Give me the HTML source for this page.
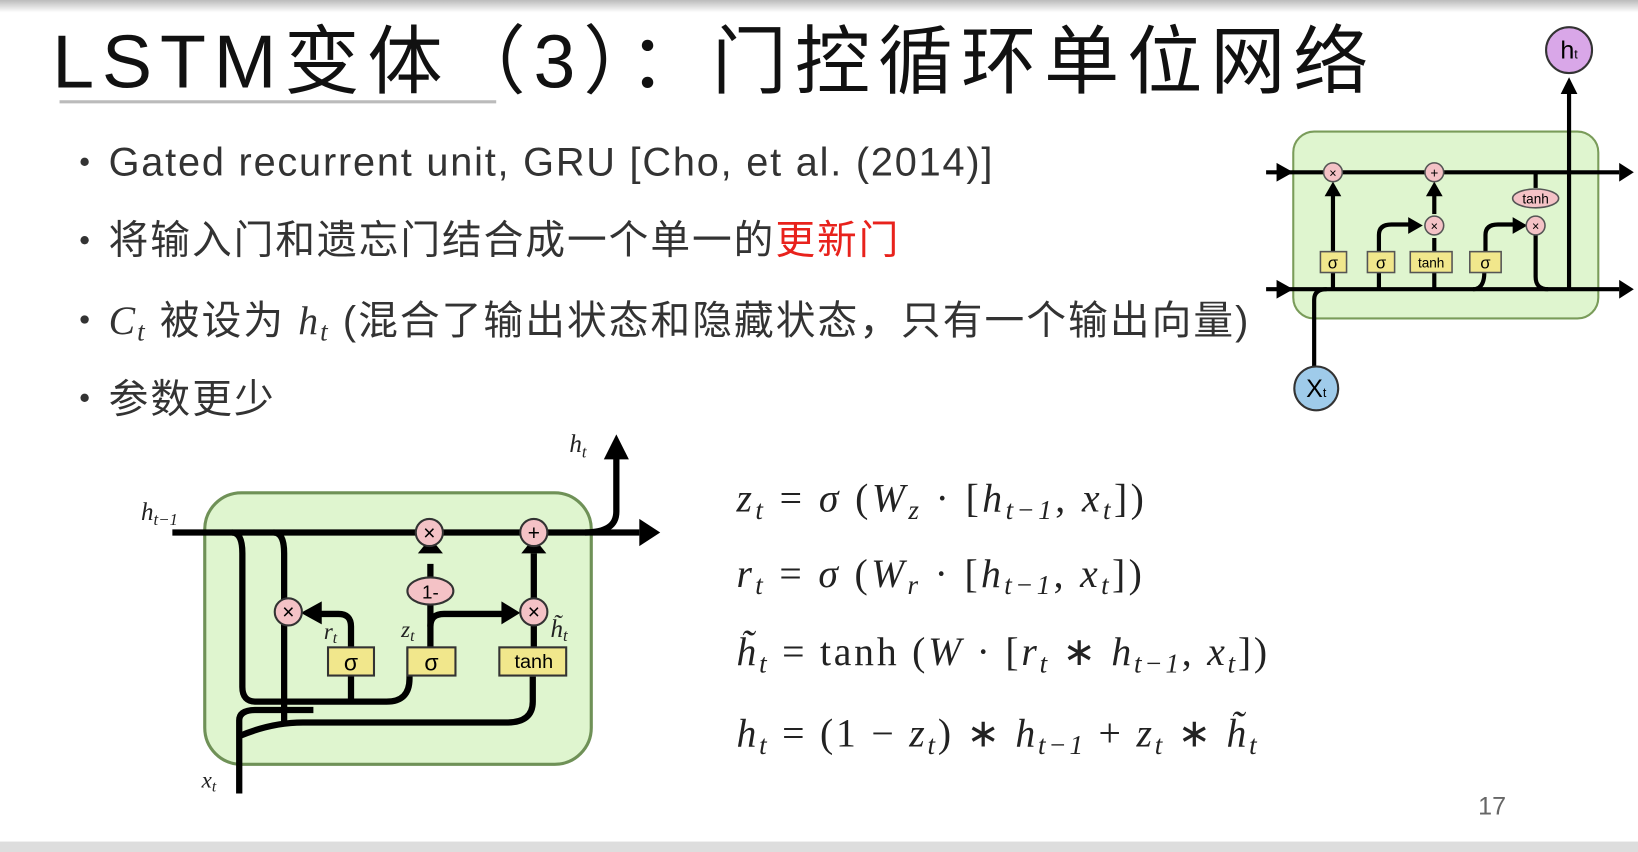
<!DOCTYPE html>
<html><head><meta charset="utf-8"><style>
html,body{margin:0;padding:0;background:#fff;overflow:hidden}
svg{display:block}
</style></head><body>
<svg width="1638" height="852" viewBox="0 0 1568 816" preserveAspectRatio="none" xmlns="http://www.w3.org/2000/svg">
<defs>
<linearGradient id="tg" x1="0" y1="0" x2="0" y2="1"><stop offset="0" stop-color="#bbb"/><stop offset="1" stop-color="#fff"/></linearGradient>
</defs>
<rect x="0" y="0" width="1568" height="12" fill="url(#tg)"/>
<rect x="0" y="806" width="1568" height="10" fill="#ddd"/>
<g font-family="Liberation Sans, Noto Sans CJK SC, sans-serif">
<text x="50" y="84" font-size="72" fill="#111" textLength="1260" lengthAdjust="spacing">LSTM变体（3）：门控循环单位网络</text>
<rect x="57" y="96" width="418" height="3" fill="#bbb"/>
<g font-size="38" fill="#333">
<circle cx="81" cy="155" r="4" fill="#333"/><text x="104" y="168" textLength="846" lengthAdjust="spacing">Gated recurrent unit, GRU  [Cho, et al. (2014)]</text>
<circle cx="81" cy="230" r="4" fill="#333"/><text x="104" y="243" textLength="756" lengthAdjust="spacing">将输入门和遗忘门结合成一个单一的<tspan fill="#e8221c">更新门</tspan></text>
<circle cx="81" cy="306" r="4" fill="#333"/><text x="104" y="320" textLength="1091" lengthAdjust="spacing"><tspan font-style="italic" font-family="Liberation Serif, serif">C<tspan font-size="26" dy="6">t</tspan></tspan><tspan dy="-6"> 被设为 </tspan><tspan font-style="italic" font-family="Liberation Serif, serif">h<tspan font-size="26" dy="6">t</tspan></tspan><tspan dy="-6"> (混合了输出状态和隐藏状态，只有一个输出向量)</tspan></text>
<circle cx="81" cy="381" r="4" fill="#333"/><text x="104" y="395" textLength="158" lengthAdjust="spacing">参数更少</text>
</g>
<text x="1415" y="780" font-size="24" fill="#666">17</text>
</g>
<g font-family="Liberation Serif, serif" font-size="38" fill="#222">
<text x="705" y="490" textLength="390" lengthAdjust="spacing"><tspan font-style="italic">z</tspan><tspan font-size="26" dy="7" font-style="italic">t</tspan><tspan dy="-7"> = </tspan><tspan font-style="italic">σ</tspan> (<tspan font-style="italic">W</tspan><tspan font-size="26" dy="7" font-style="italic">z</tspan><tspan dy="-7"> · [</tspan><tspan font-style="italic">h</tspan><tspan font-size="26" dy="7" font-style="italic">t−1</tspan><tspan dy="-7">, </tspan><tspan font-style="italic">x</tspan><tspan font-size="26" dy="7" font-style="italic">t</tspan><tspan dy="-7">])</tspan></text>
<text x="705" y="562" textLength="388" lengthAdjust="spacing"><tspan font-style="italic">r</tspan><tspan font-size="26" dy="7" font-style="italic">t</tspan><tspan dy="-7"> = </tspan><tspan font-style="italic">σ</tspan> (<tspan font-style="italic">W</tspan><tspan font-size="26" dy="7" font-style="italic">r</tspan><tspan dy="-7"> · [</tspan><tspan font-style="italic">h</tspan><tspan font-size="26" dy="7" font-style="italic">t−1</tspan><tspan dy="-7">, </tspan><tspan font-style="italic">x</tspan><tspan font-size="26" dy="7" font-style="italic">t</tspan><tspan dy="-7">])</tspan></text>
<text x="705" y="637" textLength="508" lengthAdjust="spacing"><tspan font-style="italic">h̃</tspan><tspan font-size="26" dy="7" font-style="italic">t</tspan><tspan dy="-7"> = tanh (</tspan><tspan font-style="italic">W</tspan> · [<tspan font-style="italic">r</tspan><tspan font-size="26" dy="7" font-style="italic">t</tspan><tspan dy="-7"> ∗ </tspan><tspan font-style="italic">h</tspan><tspan font-size="26" dy="7" font-style="italic">t−1</tspan><tspan dy="-7">, </tspan><tspan font-style="italic">x</tspan><tspan font-size="26" dy="7" font-style="italic">t</tspan><tspan dy="-7">])</tspan></text>
<text x="705" y="715" textLength="498" lengthAdjust="spacing"><tspan font-style="italic">h</tspan><tspan font-size="26" dy="7" font-style="italic">t</tspan><tspan dy="-7"> = (1 − </tspan><tspan font-style="italic">z</tspan><tspan font-size="26" dy="7" font-style="italic">t</tspan><tspan dy="-7">) ∗ </tspan><tspan font-style="italic">h</tspan><tspan font-size="26" dy="7" font-style="italic">t−1</tspan><tspan dy="-7"> + </tspan><tspan font-style="italic">z</tspan><tspan font-size="26" dy="7" font-style="italic">t</tspan><tspan dy="-7"> ∗ </tspan><tspan font-style="italic">h̃</tspan><tspan font-size="26" dy="7" font-style="italic">t</tspan></text>
</g>
<g>
<rect x="196" y="472" width="370" height="260" rx="35" fill="#dff5cf" stroke="#6f9157" stroke-width="3"/>
<g fill="none" stroke="#000" stroke-width="6">
<path d="M165,510 H612"/>
<path d="M560,510 Q590,510 590,490 V438"/>
<path d="M222,510 Q232,510 232,530 V658 Q232,672 245,672 H370 Q392,672 392,650 V620"/>
<path d="M262,510 Q272,510 272,530 V692"/>
<path d="M229,760 V690 Q229,680 245,680 H300"/>
<path d="M229,705 Q260,692 290,692 H485 Q510,692 510,672 V648"/>
<path d="M336,672 V620"/>
<path d="M336,620 V600 Q336,588 324,588 H300"/>
<path d="M412,620 V540"/>
<path d="M412,600 Q412,588 425,588 H488"/>
<path d="M511,620 V530"/>
</g>
<polygon points="612,497 632,510 612,523" fill="#000"/>
<polygon points="578,440 590,416 602,440" fill="#000"/>
<polygon points="400,530 412,515 424,530" fill="#000"/>
<polygon points="499,530 511,515 523,530" fill="#000"/>
<polygon points="308,576 288,587 308,598" fill="#000"/>
<polygon points="480,576 498,587 480,598" fill="#000"/>
<g fill="#f4c2c6" stroke="#333" stroke-width="2">
<circle cx="411" cy="510" r="13"/><circle cx="511" cy="510" r="13"/>
<circle cx="276" cy="586" r="13"/><circle cx="511" cy="586" r="13"/>
<ellipse cx="412" cy="566" rx="22" ry="13"/>
</g>
<g font-family="Liberation Sans, sans-serif" font-size="20" text-anchor="middle" fill="#000">
<text x="411" y="517">×</text><text x="511" y="517">+</text><text x="276" y="593">×</text><text x="511" y="593">×</text>
<text x="412" y="573" font-size="18">1-</text>
</g>
<g fill="#f1e78c" stroke="#333" stroke-width="2">
<rect x="314" y="620" width="44" height="27"/><rect x="390" y="620" width="46" height="27"/><rect x="478" y="620" width="64" height="27"/>
</g>
<g font-family="Liberation Sans, sans-serif" font-size="22" text-anchor="middle" fill="#000">
<text x="336" y="642">σ</text><text x="413" y="642">σ</text><text x="511" y="640" font-size="19">tanh</text>
</g>
<g font-family="Liberation Serif, serif" font-style="italic" fill="#222">
<text x="135" y="498" font-size="24">h<tspan font-size="16" dy="5">t−1</tspan></text>
<text x="545" y="433" font-size="24">h<tspan font-size="16" dy="5">t</tspan></text>
<text x="193" y="754" font-size="22">x<tspan font-size="15" dy="4">t</tspan></text>
<text x="310" y="612" font-size="22">r<tspan font-size="15" dy="4">t</tspan></text>
<text x="384" y="610" font-size="22">z<tspan font-size="15" dy="4">t</tspan></text>
<text x="527" y="610" font-size="24">h̃<tspan font-size="16" dy="4">t</tspan></text>
</g>
</g>
<g>
<rect x="1238" y="126" width="292" height="179" rx="20" fill="#dff5cf" stroke="#7a9c5a" stroke-width="2"/>
<g fill="none" stroke="#000" stroke-width="4">
<path d="M1212,165 H1550"/><path d="M1212,277 H1550"/>
<path d="M1258,355 V287 Q1258,277 1270,277"/>
<path d="M1502,277 V90"/>
<path d="M1470,165 V180"/>
<path d="M1470,225 V265 Q1470,277 1482,277"/>
<path d="M1276,277 V185"/>
<path d="M1320,277 V225 Q1320,215 1332,215 H1350"/>
<path d="M1373,277 V228"/><path d="M1373,205 V185"/>
<path d="M1420,250 Q1424,277 1410,277"/>
<path d="M1422,250 V225 Q1422,215 1434,215 H1450"/>
</g>
<g fill="#000">
<polygon points="1222,156 1238,165 1222,174"/><polygon points="1222,268 1238,277 1222,286"/>
<polygon points="1550,156 1564,165 1550,174"/><polygon points="1550,268 1564,277 1550,286"/>
<polygon points="1494,90 1502,74 1510,90"/>
<polygon points="1268,188 1276,174 1284,188"/><polygon points="1365,188 1373,174 1381,188"/>
<polygon points="1348,208 1362,216 1348,224"/><polygon points="1448,208 1462,216 1448,224"/>
</g>
<g fill="#f4c2c6" stroke="#555" stroke-width="1.5">
<circle cx="1276" cy="165" r="9"/><circle cx="1373" cy="165" r="9"/><circle cx="1373" cy="216" r="9"/><circle cx="1470" cy="216" r="9"/>
<ellipse cx="1470" cy="190" rx="22" ry="9"/>
</g>
<g fill="#f1e78c" stroke="#555" stroke-width="1.5">
<rect x="1264" y="241" width="25" height="20"/><rect x="1309" y="241" width="26" height="20"/><rect x="1350" y="241" width="40" height="20"/><rect x="1407" y="241" width="30" height="20"/>
</g>
<g font-family="Liberation Sans, sans-serif" text-anchor="middle" fill="#000" font-size="14">
<text x="1276" y="170" font-size="12">×</text><text x="1373" y="170" font-size="13">+</text><text x="1373" y="221" font-size="12">×</text><text x="1470" y="221" font-size="12">×</text>
<text x="1470" y="195" font-size="13">tanh</text>
<text x="1276" y="257" font-size="16">σ</text><text x="1322" y="257" font-size="16">σ</text><text x="1370" y="256" font-size="13">tanh</text><text x="1422" y="257" font-size="16">σ</text>
</g>
<circle cx="1502" cy="48" r="22" fill="#d9a7e8" stroke="#333" stroke-width="2"/>
<text x="1502" y="56" font-family="Liberation Sans, sans-serif" font-size="24" text-anchor="middle">h<tspan font-size="12">t</tspan></text>
<circle cx="1260" cy="372" r="21" fill="#9fcbea" stroke="#333" stroke-width="2"/>
<text x="1260" y="380" font-family="Liberation Sans, sans-serif" font-size="24" text-anchor="middle">X<tspan font-size="12">t</tspan></text>
</g>
</svg>
</body></html>
